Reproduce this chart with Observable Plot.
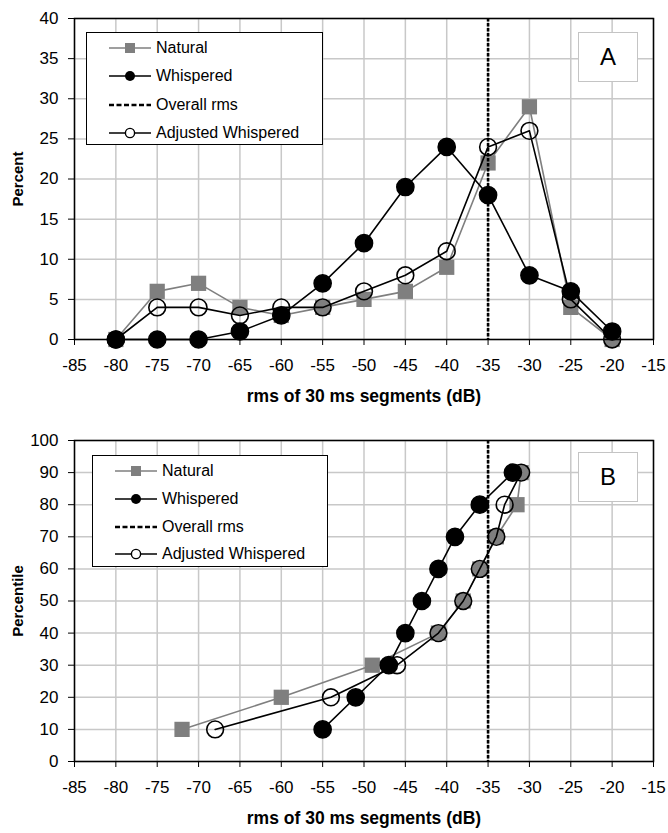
<!DOCTYPE html>
<html>
<head>
<meta charset="utf-8">
<script src="https://cdn.jsdelivr.net/npm/d3@7"></script>
<script src="https://cdn.jsdelivr.net/npm/@observablehq/plot@0.6"></script>
<style>
  html, body { margin: 0; padding: 0; background: #fff; }
  body { width: 668px; height: 833px; overflow: hidden; font-family: "Liberation Sans", Arial, sans-serif; }
  .panel { position: relative; width: 668px; }
  .panel svg { display: block; }
  .panel [aria-label="x-axis label"] text { font-weight: bold; font-size: 17.5px; }
  .panel [aria-label="y-axis label"] text { font-weight: bold; font-size: 15px; }
  .legend { position: absolute; border: 1.5px solid #000; background: #fff; box-sizing: border-box; }
  .legend .row { position: absolute; left: 0; height: 20px; display: flex; align-items: center; font-size: 16px; color: #000; white-space: nowrap; }
  .legend .row svg { margin-left: 22px; margin-right: 5px; }
  .tag { position: absolute; width: 60px; height: 50px; border: 1.5px solid #c4c4c4; background: #fff; box-sizing: border-box; display: flex; align-items: center; justify-content: center; font-size: 24px; }
</style>
</head>
<body>
<div id="A" class="panel"></div>
<div id="B" class="panel"></div>
<script>
// ---- data ----
const xTicks = [-85, -80, -75, -70, -65, -60, -55, -50, -45, -40, -35, -30, -25, -20, -15];
const yTicksA = [0, 5, 10, 15, 20, 25, 30, 35, 40];
const yTicksB = [0, 10, 20, 30, 40, 50, 60, 70, 80, 90, 100];
const binsA = [-80, -75, -70, -65, -60, -55, -50, -45, -40, -35, -30, -25, -20];
const naturalA = [0, 6, 7, 4, 3, 4, 5, 6, 9, 22, 29, 4, 0];
const whisperedA = [0, 0, 0, 1, 3, 7, 12, 19, 24, 18, 8, 6, 1];
const adjustedA = [0, 4, 4, 3, 4, 4, 6, 8, 11, 24, 26, 5, 0];
const overallRms = -35;
const percentiles = [10, 20, 30, 40, 50, 60, 70, 80, 90];
const naturalB = [-72, -60, -49, -41, -38, -36, -34, -31.5, -31];
const whisperedB = [-55, -51, -47, -45, -43, -41, -39, -36, -32];
const adjustedB = [-68, -54, -46, -41, -38, -36, -34, -33, -31];
const seriesNames = ["Natural", "Whispered", "Overall rms", "Adjusted Whispered"];
const xLabel = "rms of 30 ms segments (dB)";

const GRAY = "#7f7f7f";

function panel(opts) {
  const {nat, whi, adj, yDomain, yTicks, yLabel, height, marginTop, marginBottom} = opts;
  return Plot.plot({
    width: 668,
    height,
    marginLeft: 74,
    marginRight: 15,
    marginTop,
    marginBottom,
    style: {fontFamily: "'Liberation Sans', Arial, sans-serif", fontSize: "17px", color: "#000", background: "#fff"},
    x: {domain: [-85, -15]},
    y: {domain: yDomain},
    marks: [
      Plot.gridX(xTicks, {stroke: "#c8c8c8", strokeOpacity: 1, strokeWidth: 1.5}),
      Plot.gridY(yTicks, {stroke: "#c8c8c8", strokeOpacity: 1, strokeWidth: 1.5}),
      Plot.axisX({ticks: xTicks, tickSize: 6, tickPadding: 13, fontSize: 17, tickFormat: d => String(d),
        label: xLabel, labelAnchor: "center", labelArrow: "none", labelOffset: 62}),
      Plot.axisY({ticks: yTicks, tickSize: 6, tickPadding: 10, fontSize: 17, tickFormat: d => String(d),
        label: yLabel, labelAnchor: "center", labelArrow: "none", labelOffset: 62}),
      // Natural
      Plot.line(nat, {x: "x", y: "y", stroke: GRAY, strokeWidth: 1.6}),
      Plot.dot(nat, {x: "x", y: "y", symbol: "square", r: 8.6, fill: GRAY, stroke: "none"}),
      // Whispered
      Plot.line(whi, {x: "x", y: "y", stroke: "#000", strokeWidth: 1.6}),
      Plot.dot(whi, {x: "x", y: "y", r: 8.6, fill: "#000", stroke: "#000"}),
      // Overall rms
      Plot.ruleX([overallRms], {stroke: "#000", strokeWidth: 2.6, strokeDasharray: "3.5,1.5"}),
      // Adjusted Whispered
      Plot.line(adj, {x: "x", y: "y", stroke: "#000", strokeWidth: 1.6}),
      Plot.dot(adj, {x: "x", y: "y", r: 8.4, fill: "none", stroke: "#000", strokeWidth: 1.6}),
      Plot.frame({stroke: "#000", strokeWidth: 1.5})
    ]
  });
}

const dataA = (vals) => binsA.map((x, i) => ({x, y: vals[i]}));
const dataB = (vals) => percentiles.map((y, i) => ({x: vals[i], y}));

const plotA = panel({nat: dataA(naturalA), whi: dataA(whisperedA), adj: dataA(adjustedA),
  yDomain: [0, 40], yTicks: yTicksA, yLabel: "Percent", height: 420, marginTop: 18, marginBottom: 81});
const plotB = panel({nat: dataB(naturalB), whi: dataB(whisperedB), adj: dataB(adjustedB),
  yDomain: [0, 100], yTicks: yTicksB, yLabel: "Percentile", height: 413, marginTop: 20, marginBottom: 72});

function legendSymbol(i) {
  const s = d3.create("svg").attr("width", 42).attr("height", 14);
  if (i === 0) {
    s.append("line").attr("x1", 0).attr("x2", 42).attr("y1", 7).attr("y2", 7).attr("stroke", GRAY).attr("stroke-width", 1.6);
    s.append("rect").attr("x", 16).attr("y", 2).attr("width", 10).attr("height", 10).attr("fill", GRAY);
  } else if (i === 1) {
    s.append("line").attr("x1", 0).attr("x2", 42).attr("y1", 7).attr("y2", 7).attr("stroke", "#000").attr("stroke-width", 1.6);
    s.append("circle").attr("cx", 21).attr("cy", 7).attr("r", 5).attr("fill", "#000");
  } else if (i === 2) {
    s.append("line").attr("x1", 0).attr("x2", 42).attr("y1", 7).attr("y2", 7).attr("stroke", "#000").attr("stroke-width", 2.6).attr("stroke-dasharray", "5,2.5");
  } else {
    s.append("line").attr("x1", 0).attr("x2", 42).attr("y1", 7).attr("y2", 7).attr("stroke", "#000").attr("stroke-width", 1.6);
    s.append("circle").attr("cx", 21).attr("cy", 7).attr("r", 4.6).attr("fill", "#fff").attr("stroke", "#000").attr("stroke-width", 1.4);
  }
  return s.node();
}

function addOverlays(container, plot, legendBox, tagBox, tag) {
  container.appendChild(plot);
  const lg = document.createElement("div");
  lg.className = "legend";
  Object.assign(lg.style, {left: legendBox.x + "px", top: legendBox.y + "px", width: legendBox.w + "px", height: legendBox.h + "px"});
  seriesNames.forEach((name, i) => {
    const row = document.createElement("div");
    row.className = "row";
    row.style.top = (legendBox.rowTop + i * legendBox.rowGap) + "px";
    row.appendChild(legendSymbol(i));
    const t = document.createElement("span");
    t.textContent = name;
    row.appendChild(t);
    lg.appendChild(row);
  });
  container.appendChild(lg);
  const tg = document.createElement("div");
  tg.className = "tag";
  Object.assign(tg.style, {left: tagBox.x + "px", top: tagBox.y + "px"});
  tg.textContent = tag;
  container.appendChild(tg);
}

addOverlays(document.getElementById("A"), plotA, {x: 86, y: 32, w: 237, h: 113, rowTop: 5, rowGap: 28.3}, {x: 578, y: 32}, "A");
addOverlays(document.getElementById("B"), plotB, {x: 92, y: 35, w: 236, h: 112, rowTop: 5, rowGap: 27.8}, {x: 578, y: 32}, "B");
</script>
</body>
</html>
